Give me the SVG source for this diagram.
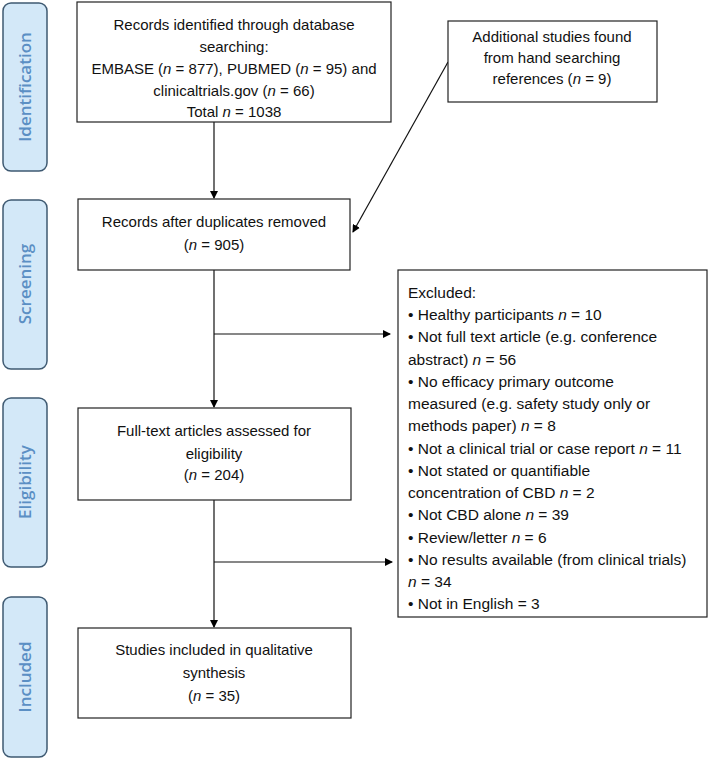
<svg xmlns="http://www.w3.org/2000/svg" width="709" height="760" viewBox="0 0 709 760">
<defs>
<marker id="ah" markerWidth="8" markerHeight="8" refX="7" refY="4" orient="auto" markerUnits="userSpaceOnUse"><path d="M0,0 L8,4 L0,8 z" fill="#000"/></marker>
<style>
.box{fill:#fff;stroke:#222;stroke-width:1.2}
.t{font-family:"Liberation Sans",Arial,sans-serif;font-size:15px;fill:#111}
.x{font-size:15.5px}
.c{text-anchor:middle}
.stage{fill:#d3e8f8;stroke:#3f5a72;stroke-width:1.5}
.st{font-family:"Open Sans","Liberation Sans",sans-serif;font-size:17px;font-weight:600;fill:#5b8fc4;text-anchor:middle}
.ln{stroke:#111;stroke-width:1.2;fill:none}
</style>
</defs>
<g id="stage-identification"><rect class="stage" x="3" y="3" width="44" height="168" rx="8"/><text class="st" transform="translate(31,87) rotate(-90)">Identification</text></g>
<g id="stage-screening"><rect class="stage" x="3" y="200" width="44" height="169" rx="8"/><text class="st" transform="translate(31,284) rotate(-90)">Screening</text></g>
<g id="stage-eligibility"><rect class="stage" x="3" y="398" width="44" height="169" rx="8"/><text class="st" transform="translate(31,482) rotate(-90)">Eligibility</text></g>
<g id="stage-included"><rect class="stage" x="3" y="597" width="44" height="160" rx="8"/><text class="st" transform="translate(31,677) rotate(-90)">Included</text></g>

<g id="connectors">
<line class="ln" x1="214" y1="122" x2="214" y2="198" marker-end="url(#ah)"/>
<line class="ln" x1="448" y1="62" x2="353" y2="232" marker-end="url(#ah)"/>
<line class="ln" x1="214" y1="270" x2="214" y2="407" marker-end="url(#ah)"/>
<line class="ln" x1="214" y1="334" x2="390" y2="334" marker-end="url(#ah)"/>
<line class="ln" x1="214" y1="500" x2="214" y2="627" marker-end="url(#ah)"/>
<line class="ln" x1="214" y1="562" x2="392" y2="562" marker-end="url(#ah)"/>
</g>

<g id="records-identified"><rect class="box" x="77" y="2" width="314" height="120"/>
<text class="t c" x="234" y="30">Records identified through database</text>
<text class="t c" x="234" y="52">searching:</text>
<text class="t c" x="234" y="74">EMBASE (<tspan font-style="italic">n</tspan> = 877), PUBMED (<tspan font-style="italic">n</tspan> = 95) and</text>
<text class="t c" x="234" y="96">clinicaltrials.gov (<tspan font-style="italic">n</tspan> = 66)</text>
<text class="t c" x="234" y="117">Total <tspan font-style="italic">n</tspan> = 1038</text></g>

<g id="additional"><rect class="box" x="448" y="21" width="209" height="81"/>
<text class="t c" x="552" y="42">Additional studies found</text>
<text class="t c" x="552" y="63">from hand searching</text>
<text class="t c" x="552" y="84">references (<tspan font-style="italic">n</tspan> = 9)</text></g>

<g id="records-dedup"><rect class="box" x="78" y="199" width="272" height="71"/>
<text class="t c" x="214" y="227">Records after duplicates removed</text>
<text class="t c" x="214" y="250">(<tspan font-style="italic">n</tspan> = 905)</text></g>

<g id="excluded"><rect class="box" x="398" y="270" width="309" height="347"/>
<text class="t x" x="408" y="298">Excluded:</text>
<text class="t x" x="408" y="320">• Healthy participants <tspan font-style="italic">n</tspan> = 10</text>
<text class="t x" x="408" y="342">• Not full text article (e.g. conference</text>
<text class="t x" x="408" y="365">abstract) <tspan font-style="italic">n</tspan> = 56</text>
<text class="t x" x="408" y="387">• No efficacy primary outcome</text>
<text class="t x" x="408" y="409">measured (e.g. safety study only or</text>
<text class="t x" x="408" y="431">methods paper) <tspan font-style="italic">n</tspan> = 8</text>
<text class="t x" x="408" y="454">• Not a clinical trial or case report <tspan font-style="italic">n</tspan> = 11</text>
<text class="t x" x="408" y="476">• Not stated or quantifiable</text>
<text class="t x" x="408" y="498">concentration of CBD <tspan font-style="italic">n</tspan> = 2</text>
<text class="t x" x="408" y="520">• Not CBD alone <tspan font-style="italic">n</tspan> = 39</text>
<text class="t x" x="408" y="543">• Review/letter <tspan font-style="italic">n</tspan> = 6</text>
<text class="t x" x="408" y="565">• No results available (from clinical trials)</text>
<text class="t x" x="408" y="587"><tspan font-style="italic">n</tspan> = 34</text>
<text class="t x" x="408" y="609">• Not in English = 3</text></g>

<g id="fulltext"><rect class="box" x="78" y="408" width="273" height="92"/>
<text class="t c" x="214" y="436">Full-text articles assessed for</text>
<text class="t c" x="214" y="459">eligibility</text>
<text class="t c" x="214" y="480">(<tspan font-style="italic">n</tspan> = 204)</text></g>

<g id="included"><rect class="box" x="78" y="628" width="273" height="90"/>
<text class="t c" x="214" y="655">Studies included in qualitative</text>
<text class="t c" x="214" y="678">synthesis</text>
<text class="t c" x="214" y="701">(<tspan font-style="italic">n</tspan> = 35)</text></g>
</svg>
